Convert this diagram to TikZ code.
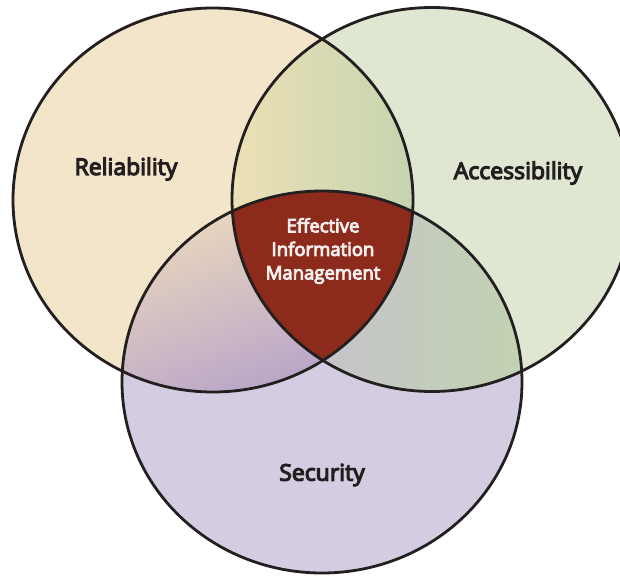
\documentclass[tikz,border=0pt]{standalone}
\usepackage{fontspec}
\newfontfamily\lab{Open Sans}[FakeBold=5]
\definecolor{relc}{HTML}{F2E5CA}
\definecolor{accc}{HTML}{DFE7D3}
\definecolor{secc}{HTML}{D4CCE1}
\definecolor{eimc}{HTML}{8C2A1C}
\definecolor{inkc}{HTML}{231F20}
\definecolor{raL}{HTML}{EDE0B5}
\definecolor{raR}{HTML}{C4D4B0}
\definecolor{rsT}{HTML}{EEDABC}
\definecolor{rsB}{HTML}{B8A5C9}
\definecolor{asL}{HTML}{C6BDD6}
\definecolor{asR}{HTML}{C2D3B0}
\begin{document}
\begin{tikzpicture}[x=1pt,y=-1pt,
  ring/.style={draw=inkc,line width=2.8pt},
  bigtext/.style={font=\lab\fontsize{23}{27}\selectfont,text=inkc},
  midtext/.style={font=\lab\fontsize{18.5}{23.5}\selectfont,text=white!92!eimc,align=center}]
\useasboundingbox (0,0) rectangle (620,577);
\clip (0,0) rectangle (620,577);
\def\RelPath{(213,200) ellipse [x radius=200pt,y radius=192pt]}
\def\AccPath{(432,199.5) ellipse [x radius=200pt,y radius=192pt]}
\def\SecPath{(322,382) ellipse [x radius=200pt,y radius=191pt]}
% base fills
\fill[relc] \RelPath;
\fill[accc] \AccPath;
\fill[secc] \SecPath;
% Rel & Acc overlap
\begin{scope}
  \clip \RelPath;
  \clip \AccPath;
  \shade[left color=raL, right color=raR] (230,0) rectangle (415,240);
\end{scope}
% Rel & Sec overlap
\begin{scope}
  \clip \RelPath;
  \clip \SecPath;
  \shade[top color=rsT, bottom color=rsB, shading angle=20] (110,200) rectangle (330,400);
\end{scope}
% Acc & Sec overlap
\begin{scope}
  \clip \AccPath;
  \clip \SecPath;
  \shade[left color=asL, right color=asR] (230,190) rectangle (525,395);
\end{scope}
% center
\begin{scope}
  \clip \RelPath;
  \clip \AccPath;
  \fill[eimc] \SecPath;
\end{scope}
% outlines
\draw[ring] \RelPath;
\draw[ring] \AccPath;
\draw[ring] \SecPath;
% labels
\node[bigtext] (rel) at (126,169) {Reliability};
\node[bigtext] (acc) at (518,173) {Accessibility};
\node[bigtext] (sec) at (322,475) {Security};
\node[midtext] (eim) at (323,251) {Effective\\Information\\Management};
\end{tikzpicture}
\end{document}
